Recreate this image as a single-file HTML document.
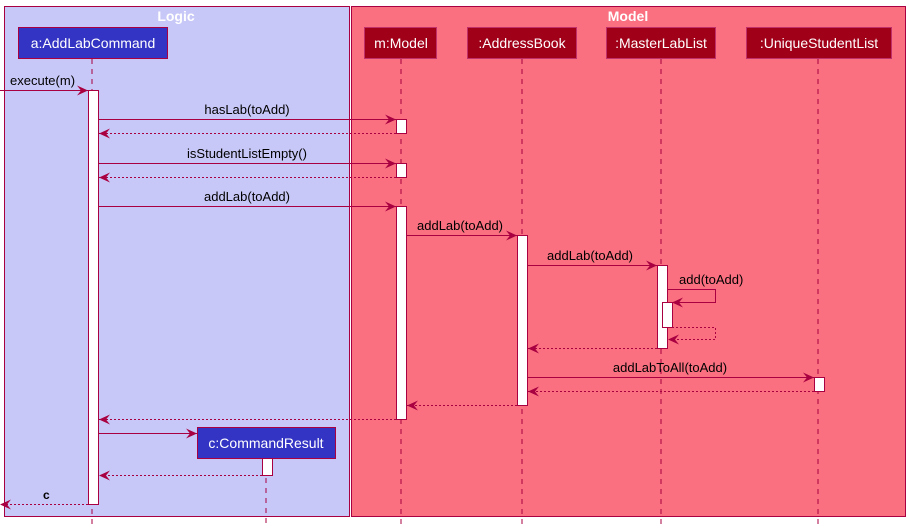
<!DOCTYPE html>
<html><head><meta charset="utf-8"><style>
html,body{margin:0;padding:0;background:#fff;}
svg{display:block;font-family:"Liberation Sans","DejaVu Sans",sans-serif;}
</style></head><body>
<svg width="909" height="528" viewBox="0 0 909 528" xmlns="http://www.w3.org/2000/svg">
<defs>
<marker id="a" markerWidth="12" markerHeight="10" refX="11" refY="5" orient="auto" markerUnits="userSpaceOnUse">
<path d="M0,0 L11,5 L0,10 L4,5 Z" fill="#a80040"/></marker>
</defs>
<rect x="4.5" y="6.5" width="345" height="510" fill="#c8c8f8" stroke="#a80040"/>
<rect x="351.5" y="6.5" width="554" height="510" fill="#fa7080" stroke="#a80040"/>
<text x="176" y="21" fill="#fff" font-weight="bold" font-size="14" text-anchor="middle">Logic</text>
<text x="628" y="21" fill="#fff" font-weight="bold" font-size="14" text-anchor="middle">Model</text>
<g stroke="#a80040" stroke-dasharray="5,5" fill="none">
<line x1="92" y1="59" x2="92" y2="528"/>
<line x1="266" y1="458" x2="266" y2="528"/>
<line x1="401" y1="59" x2="401" y2="528"/>
<line x1="522" y1="59" x2="522" y2="528"/>
<line x1="661" y1="59" x2="661" y2="528"/>
<line x1="818" y1="59" x2="818" y2="528"/>
</g>
<g font-size="14" fill="#fff" text-anchor="middle">
<rect x="18.5" y="27.5" width="149" height="31" fill="#3333c4" stroke="#a80040"/>
<text x="93" y="48">a:AddLabCommand</text>
<rect x="364.5" y="27.5" width="72" height="31" fill="#a00018" stroke="#c0306a"/>
<text x="401" y="48">m:Model</text>
<rect x="467.5" y="27.5" width="109" height="31" fill="#a00018" stroke="#c0306a"/>
<text x="522" y="48">:AddressBook</text>
<rect x="606.5" y="27.5" width="109" height="31" fill="#a00018" stroke="#c0306a"/>
<text x="661" y="48">:MasterLabList</text>
<rect x="746.5" y="27.5" width="145" height="31" fill="#a00018" stroke="#c0306a"/>
<text x="819" y="48">:UniqueStudentList</text>
<rect x="197.5" y="427.5" width="138" height="31" fill="#3333c4" stroke="#a80040"/>
<text x="266" y="448">c:CommandResult</text>
</g>
<g fill="#fff" stroke="#a80040">
<rect x="88.5" y="90.5" width="10" height="414"/>
<rect x="396.5" y="119.5" width="10" height="14"/>
<rect x="396.5" y="163.5" width="10" height="14"/>
<rect x="396.5" y="206.5" width="10" height="213"/>
<rect x="517.5" y="235.5" width="10" height="170"/>
<rect x="657.5" y="265.5" width="10" height="83"/>
<rect x="662.5" y="302.5" width="10" height="25"/>
<rect x="814.5" y="377.5" width="10" height="14"/>
<rect x="262.5" y="458.5" width="10" height="17"/>
</g>
<g stroke="#a80040" fill="none">
<line x1="0" y1="90.5" x2="88" y2="90.5" marker-end="url(#a)"/>
<line x1="98" y1="119.5" x2="396" y2="119.5" marker-end="url(#a)"/>
<line x1="98" y1="163.5" x2="396" y2="163.5" marker-end="url(#a)"/>
<line x1="98" y1="206.5" x2="396" y2="206.5" marker-end="url(#a)"/>
<line x1="406" y1="235.5" x2="517" y2="235.5" marker-end="url(#a)"/>
<line x1="527" y1="265.5" x2="657" y2="265.5" marker-end="url(#a)"/>
<polyline points="667,289.5 715.5,289.5 715.5,302.5 672,302.5" marker-end="url(#a)"/>
<line x1="527" y1="377.5" x2="814" y2="377.5" marker-end="url(#a)"/>
<line x1="98" y1="433.5" x2="197" y2="433.5" marker-end="url(#a)"/>
</g>
<g stroke="#a80040" fill="none" stroke-dasharray="2,2">
<line x1="396" y1="133.5" x2="99" y2="133.5" marker-end="url(#a)"/>
<line x1="396" y1="177.5" x2="99" y2="177.5" marker-end="url(#a)"/>
<polyline points="672,327.5 715.5,327.5 715.5,339.5 668,339.5" marker-end="url(#a)"/>
<line x1="657" y1="348.5" x2="528" y2="348.5" marker-end="url(#a)"/>
<line x1="814" y1="391.5" x2="528" y2="391.5" marker-end="url(#a)"/>
<line x1="517" y1="405.5" x2="407" y2="405.5" marker-end="url(#a)"/>
<line x1="396" y1="419.5" x2="99" y2="419.5" marker-end="url(#a)"/>
<line x1="262" y1="475.5" x2="99" y2="475.5" marker-end="url(#a)"/>
<line x1="88" y1="504.5" x2="0" y2="504.5" marker-end="url(#a)"/>
</g>
<g font-size="13" fill="#000">
<text x="10" y="85">execute(m)</text>
<text x="247" y="114" text-anchor="middle">hasLab(toAdd)</text>
<text x="247" y="158" text-anchor="middle">isStudentListEmpty()</text>
<text x="247" y="201" text-anchor="middle">addLab(toAdd)</text>
<text x="417" y="230">addLab(toAdd)</text>
<text x="547" y="260">addLab(toAdd)</text>
<text x="679" y="284">add(toAdd)</text>
<text x="670" y="372" text-anchor="middle">addLabToAll(toAdd)</text>
<text x="43" y="499" font-weight="bold" font-size="12">c</text>
</g>
</svg>
</body></html>
